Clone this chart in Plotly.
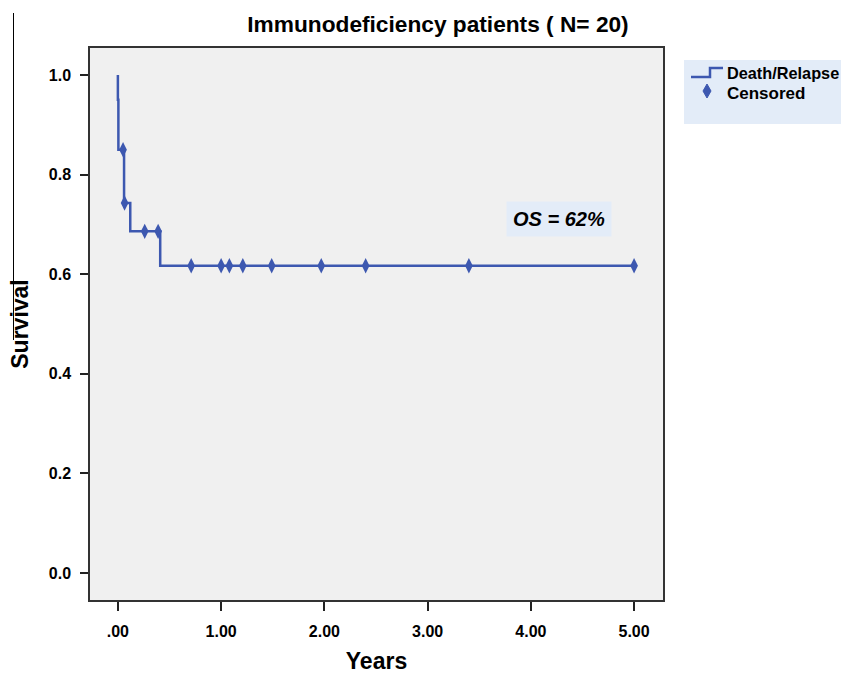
import plotly.graph_objects as go

# Kaplan-Meier step curve (event times / survival)
step_times = [0.0, 0.0, 0.005, 0.06, 0.12, 0.41, 5.0]
step_surv = [1.0, 0.95, 0.85, 0.743, 0.686, 0.617, 0.617]

# Censored observations
cens_times = [0.05, 0.065, 0.26, 0.39, 0.71, 1.0, 1.08, 1.21, 1.49, 1.97, 2.40, 3.40, 5.0]
cens_surv = [0.85, 0.743, 0.686, 0.686, 0.617, 0.617, 0.617, 0.617, 0.617, 0.617, 0.617, 0.617, 0.617]

x_ticks = [0, 1, 2, 3, 4, 5]
x_ticklabels = [".00", "1.00", "2.00", "3.00", "4.00", "5.00"]
y_ticks = [0.0, 0.2, 0.4, 0.6, 0.8, 1.0]
y_ticklabels = ["0.0", "0.2", "0.4", "0.6", "0.8", "1.0"]

BLUE = "#3d58b0"
LEG_BG = "#e3ecf8"
FONT = "Liberation Sans, Arial, sans-serif"

fig = go.Figure()
fig.add_trace(go.Scatter(x=step_times, y=step_surv, mode="lines", line=dict(color=BLUE, width=2.5, shape="hv"),
                         name="Death/Relapse", showlegend=False, hoverinfo="skip"))
fig.add_trace(go.Scatter(x=cens_times, y=cens_surv, mode="markers",
                         marker=dict(symbol="diamond-tall", size=11, color=BLUE),
                         name="Censored", showlegend=False))

W, H = 841, 674
ml, mr, mt, mb = 90, 178, 48, 74
pw, ph = W - ml - mr, H - mt - mb

def px(x):
    return (x - ml) / pw

def py(y):
    return (H - mb - y) / ph

shapes = []
# legend box
shapes.append(dict(type="rect", xref="paper", yref="paper", x0=px(684), x1=px(845), y0=py(124), y1=py(60),
                   fillcolor=LEG_BG, line=dict(width=0), layer="below"))
# legend step icon
path = "M {} {} L {} {} L {} {} L {} {}".format(px(691), py(77), px(710), py(77), px(710), py(68), px(723), py(68))
shapes.append(dict(type="path", xref="paper", yref="paper", path=path, line=dict(color=BLUE, width=2.5)))
# legend diamond icon
cx, cy = 707, 91
dpath = "M {} {} L {} {} L {} {} L {} {} Z".format(px(cx), py(cy - 7), px(cx + 4), py(cy), px(cx), py(cy + 7), px(cx - 4), py(cy))
shapes.append(dict(type="path", xref="paper", yref="paper", path=dpath, fillcolor=BLUE, line=dict(color=BLUE, width=1)))
# stray vertical line at left of the image
shapes.append(dict(type="line", xref="paper", yref="paper", x0=px(13.5), x1=px(13.5), y0=py(13), y1=py(340),
                   line=dict(color="black", width=1)))

annotations = [
    dict(text="Death/Relapse", xref="paper", yref="paper", x=px(725), y=py(73), xanchor="left", yanchor="middle",
         showarrow=False, font=dict(family=FONT, size=16.3, color="black", weight="bold")),
    dict(text="Censored", xref="paper", yref="paper", x=px(725), y=py(93), xanchor="left", yanchor="middle",
         showarrow=False, font=dict(family=FONT, size=17, color="black", weight="bold")),
    dict(text="<i>OS = 62%</i>", x=4.27, y=0.711, xref="x", yref="y", showarrow=False,
         font=dict(family=FONT, size=20, color="black", weight="bold"), bgcolor=LEG_BG, borderpad=6),
]

fig.update_layout(
    width=W, height=H,
    margin=dict(l=ml, r=mr, t=mt, b=mb, autoexpand=False),
    paper_bgcolor="white", plot_bgcolor="#f0f0f0",
    title=dict(text="Immunodeficiency patients ( N= 20)", x=438 / W, xanchor="center",
               y=1 - 24 / H, yanchor="middle",
               font=dict(family=FONT, size=22.7, color="black", weight="bold")),
    xaxis=dict(range=[-0.27, 5.28], tickvals=x_ticks, ticktext=x_ticklabels, showgrid=False, zeroline=False,
               showline=True, linecolor="#333", linewidth=1.5, mirror=True, ticks="outside", ticklen=9, tickwidth=2,
               tickcolor="#222", ticklabelstandoff=7, automargin=False,
               tickfont=dict(family=FONT, size=16, color="black", weight="bold"),
               title=dict(text="Years", font=dict(family=FONT, size=23, color="black", weight="bold"), standoff=15)),
    yaxis=dict(range=[-0.054, 1.054], tickvals=y_ticks, ticktext=y_ticklabels, showgrid=False, zeroline=False,
               showline=True, linecolor="#333", linewidth=1.5, mirror=True, ticks="outside", ticklen=8, tickwidth=2,
               tickcolor="#222", ticklabelstandoff=6, automargin=False,
               tickfont=dict(family=FONT, size=16, color="black", weight="bold"),
               title=dict(text="Survival", font=dict(family=FONT, size=23, color="black", weight="bold"), standoff=14)),
    shapes=shapes, annotations=annotations, showlegend=False,
)

fig.write_html("out.html")
